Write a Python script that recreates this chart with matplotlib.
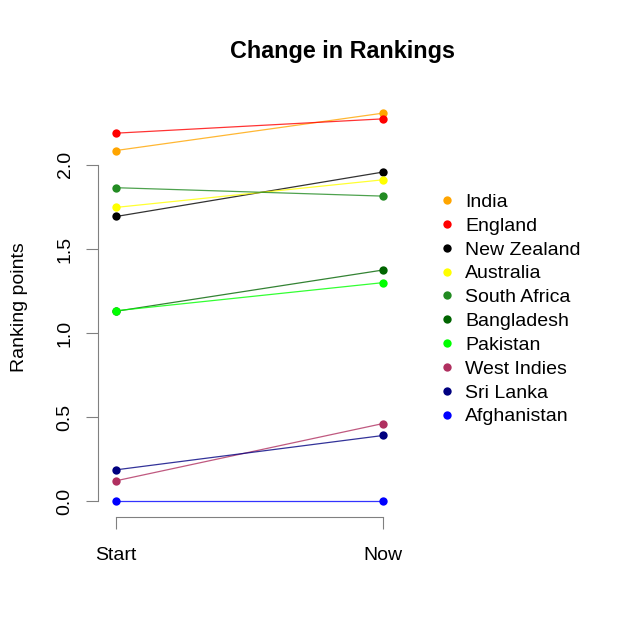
import matplotlib
matplotlib.use('Agg')
import matplotlib.pyplot as plt
from matplotlib.lines import Line2D

plt.rcParams['font.family'] = ['Liberation Sans', 'DejaVu Sans']

# Datos: puntos de ranking al inicio y ahora
equipos = ['India', 'England', 'New Zealand', 'Australia', 'South Africa',
           'Bangladesh', 'Pakistan', 'West Indies', 'Sri Lanka', 'Afghanistan']
inicio = [2.085, 2.188, 1.693, 1.747, 1.864, 1.13, 1.133, 0.123, 0.188, 0.0]
ahora = [2.307, 2.273, 1.957, 1.911, 1.814, 1.375, 1.30, 0.463, 0.392, 0.0]
colores = ['#FFA500', '#FF0000', '#000000', '#FFFF00', '#228B22',
           '#006400', '#00FF00', '#B03060', '#000080', '#0000FF']
momentos = ['Start', 'Now']
x_pos = [1, 2]

fig = plt.figure(figsize=(6.4, 6.4), dpi=100)
ax = fig.add_axes([98/640, 1 - 517/640, 490/640, (517 - 97.6)/640])

for eq, a, b, c in zip(equipos, inicio, ahora, colores):
    ax.plot(x_pos, [a, b], color=c, lw=0.9, alpha=0.8)
    ax.plot(x_pos, [a, b], color=c, lw=0, marker='o', markersize=6,
            markeredgewidth=0, label=eq)

# limites estilo R (4% de margen)
x0, x1 = 1, 2.7
ax.set_xlim(x0 - 0.04*(x1 - x0), x1 + 0.04*(x1 - x0))
y0, y1 = min(inicio + ahora), max(inicio + ahora)
ax.set_ylim(y0 - 0.04*(y1 - y0), y1 + 0.04*(y1 - y0))

ax.set_xticks(x_pos)
ax.set_xticklabels(momentos)
ax.set_yticks([0, 0.5, 1.0, 1.5, 2.0])
ax.set_yticklabels(['0.0', '0.5', '1.0', '1.5', '2.0'])

for s in ['top', 'right']:
    ax.spines[s].set_visible(False)
ax.spines['left'].set_bounds(0, 2.0)
ax.spines['bottom'].set_bounds(1, 2)
for s in ['left', 'bottom']:
    ax.spines[s].set_color('#808080')
    ax.spines[s].set_linewidth(0.8)
ax.tick_params(axis='both', length=8.6, width=0.8, color='#808080',
               labelsize=14)
ax.tick_params(axis='y', labelrotation=90, pad=9)
ax.tick_params(axis='x', pad=13)
for t in ax.get_yticklabels():
    t.set_va('center')

ax.set_title('Change in Rankings', fontsize=16.8, fontweight='bold', pad=28.3)
fig.text(24/640, 1 - 307/640, 'Ranking points', rotation=90,
         rotation_mode='anchor', ha='center', va='baseline', fontsize=14)

handles = [Line2D([], [], marker='o', color=c, linestyle='none',
                  markersize=6, markeredgewidth=0) for c in colores]
ax.legend(handles, equipos, loc='upper left', bbox_to_anchor=(0.6925, 0.772),
          frameon=False, fontsize=14, handlelength=1.0, handletextpad=0.43,
          borderpad=0, borderaxespad=0, labelspacing=0.32)

fig.savefig('out.png', dpi=100)
